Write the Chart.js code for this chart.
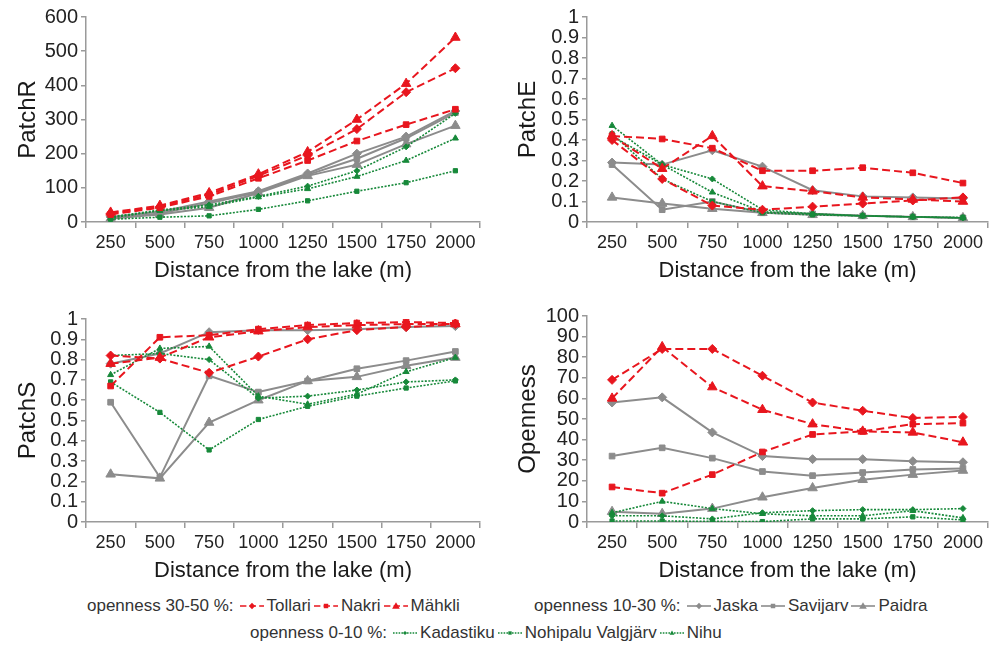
<!DOCTYPE html>
<html><head><meta charset="utf-8">
<script src="https://cdn.jsdelivr.net/npm/chart.js@4.4.1/dist/chart.umd.min.js"></script>
<style>
body{margin:0;background:#fff;width:1000px;height:648px;overflow:hidden;position:relative;font-family:'Liberation Sans',Arial,sans-serif;}
.panel{position:absolute;}
.lg{position:absolute;font-size:17px;color:#333;white-space:nowrap;line-height:20px;display:flex;align-items:center;}
.lg svg{margin:0 2px;}
</style></head><body>
<div class="panel" style="left:0;top:0"><canvas id="c1" width="490" height="290"></canvas></div>
<div class="panel" style="left:500px;top:0"><canvas id="c2" width="500" height="290"></canvas></div>
<div class="panel" style="left:0;top:300px"><canvas id="c3" width="490" height="290"></canvas></div>
<div class="panel" style="left:500px;top:300px"><canvas id="c4" width="500" height="290"></canvas></div>
<div class="lg" id="lg1" style="left:87px;top:596px"></div>
<div class="lg" id="lg2" style="left:534px;top:596px"></div>
<div class="lg" id="lg3" style="left:250px;top:623px"></div>
<script>
// ---------- data ----------
const distances = ['250','500','750','1000','1250','1500','1750','2000'];

const tollariR   = [25, 45, 80, 135, 195, 272, 380, 450];
const nakriR     = [22, 42, 75, 128, 180, 237, 285, 330];
const mahkliR    = [28, 48, 85, 140, 205, 300, 405, 540];
const jaskaR     = [15, 30, 60, 90, 142, 200, 250, 325];
const savijarvR  = [12, 25, 55, 88, 138, 185, 245, 320];
const paidraR    = [10, 22, 42, 85, 135, 168, 228, 282];
const kadastikuR = [15, 35, 50, 75, 105, 150, 220, 318];
const nohipaluR  = [8, 14, 18, 37, 62, 90, 115, 150];
const nihuR      = [12, 33, 45, 73, 97, 133, 180, 245];

const tollariE   = [0.40, 0.21, 0.08, 0.06, 0.075, 0.09, 0.105, 0.12];
const nakriE     = [0.42, 0.405, 0.36, 0.25, 0.25, 0.265, 0.24, 0.19];
const mahkliE    = [0.42, 0.26, 0.42, 0.175, 0.15, 0.12, 0.11, 0.10];
const jaskaE     = [0.29, 0.28, 0.35, 0.27, 0.155, 0.125, 0.12, 0.115];
const savijarvE  = [0.28, 0.06, 0.10, 0.045, 0.04, 0.03, 0.025, 0.02];
const paidraE    = [0.12, 0.09, 0.065, 0.045, 0.035, 0.03, 0.025, 0.02];
const kadastikuE = [0.42, 0.28, 0.21, 0.06, 0.04, 0.03, 0.025, 0.02];
const nohipaluE  = [0.43, 0.21, 0.10, 0.045, 0.035, 0.03, 0.025, 0.022];
const nihuE      = [0.47, 0.28, 0.145, 0.05, 0.04, 0.03, 0.025, 0.02];

const tollariS   = [0.82, 0.805, 0.735, 0.815, 0.90, 0.945, 0.96, 0.975];
const nakriS     = [0.67, 0.91, 0.92, 0.95, 0.97, 0.98, 0.985, 0.98];
const mahkliS    = [0.78, 0.81, 0.91, 0.94, 0.96, 0.97, 0.975, 0.975];
const jaskaS     = [0.78, 0.83, 0.935, 0.945, 0.945, 0.95, 0.96, 0.965];
const savijarvS  = [0.59, 0.22, 0.72, 0.64, 0.695, 0.755, 0.795, 0.84];
const paidraS    = [0.235, 0.215, 0.49, 0.60, 0.695, 0.715, 0.77, 0.81];
const kadastikuS = [0.82, 0.83, 0.80, 0.61, 0.62, 0.65, 0.69, 0.70];
const nohipaluS  = [0.69, 0.54, 0.355, 0.505, 0.57, 0.62, 0.66, 0.695];
const nihuS      = [0.725, 0.855, 0.865, 0.62, 0.58, 0.63, 0.74, 0.81];

const tollariO   = [69, 84, 84, 71, 58, 54, 50.5, 51];
const nakriO     = [17, 14, 23, 34, 42.5, 44, 47.5, 48];
const mahkliO    = [60, 85, 65.5, 54.5, 47.5, 44, 43.5, 38.7];
const jaskaO     = [58, 60.5, 43.5, 32, 30.5, 30.5, 29.5, 29];
const savijarvO  = [32, 36, 31, 24.5, 22.5, 24, 25.5, 26];
const paidraO    = [5, 4, 6.5, 12, 16.5, 20.5, 23, 25];
const kadastikuO = [3, 3, 1.5, 4.5, 5.5, 6, 6, 6.5];
const nohipaluO  = [0.5, 0.5, 0.3, 0.2, 1.5, 1.5, 2.5, 1];
const nihuO      = [4.5, 10, 6.5, 4, 3, 3, 5.5, 2];

const siteNames = ['Tollari','Nakri','Mähkli','Jaska','Savijarv','Paidra','Kadastiku','Nohipalu Valgjärv','Nihu'];
const groupLabels = ['openness 30-50 %:','openness 10-30 %:','openness 0-10 %:'];
const axisTitleX = 'Distance from the lake (m)';

// ---------- styles ----------
const RED = '#e8161e', GRAY = '#8c8c8c', GREEN = '#17893a';
const styles = [
  {c:RED, dash:[8,4], w:2, p:'rectRot', r:4.5},
  {c:RED, dash:[8,4], w:2, p:'rect', r:4},
  {c:RED, dash:[8,4], w:2, p:'triangle', r:5.5},
  {c:GRAY, dash:[], w:2, p:'rectRot', r:4.5},
  {c:GRAY, dash:[], w:2, p:'rect', r:4},
  {c:GRAY, dash:[], w:2, p:'triangle', r:5.5},
  {c:GREEN, dash:[2,1.5], w:1.6, p:'rectRot', r:3},
  {c:GREEN, dash:[2,1.5], w:1.6, p:'rect', r:3},
  {c:GREEN, dash:[2,1.5], w:1.6, p:'triangle', r:3.5}
];

function makeDatasets(arrs){
  return arrs.map((d,i)=>({
    label: siteNames[i], data: d,
    borderColor: styles[i].c, backgroundColor: styles[i].c,
    borderWidth: styles[i].w, borderDash: styles[i].dash,
    pointStyle: styles[i].p, pointRadius: styles[i].r,
    pointBorderWidth: 1, pointBorderColor: styles[i].c, pointBackgroundColor: styles[i].c,
    tension: 0, fill: false, order: i < 3 ? 0 : (i < 6 ? 2 : 1)
  }));
}

const FONT = "'Liberation Sans', Arial, sans-serif";
function makeChart(id, arrs, yTitle, yMax, yStep, yWidth, pad){
  return new Chart(document.getElementById(id), {
    type: 'line',
    data: { labels: distances, datasets: makeDatasets(arrs) },
    options: {
      responsive: false, animation: false, devicePixelRatio: 1,
      layout: { padding: pad },
      plugins: { legend: {display:false}, tooltip: {enabled:false} },
      scales: {
        x: {
          type: 'category', offset: true,
          grid: { display: true, drawOnChartArea: false, drawTicks: true, tickLength: 6, color: '#9a9a9a', lineWidth: 1.5, offset: true },
          border: { display: true, color: '#9a9a9a', width: 1.5 },
          ticks: { color: '#222', font: { family: FONT, size: 18 }, padding: 4, maxRotation: 0, autoSkip: false },
          title: { display: true, text: axisTitleX, color: '#1a1a1a', font: { family: FONT, size: 22 }, padding: {top: 0, bottom: 6} },
          afterFit: s => { s.height = 68; }
        },
        y: {
          min: 0, max: yMax,
          grid: { display: true, drawOnChartArea: false, drawTicks: true, tickLength: 5, color: '#9a9a9a', lineWidth: 1.5 },
          border: { display: true, color: '#9a9a9a', width: 1.5 },
          ticks: { stepSize: yStep, autoSkip: false, color: '#222', font: { family: FONT, size: 20 }, padding: 3,
                   callback: v => String(+v.toFixed(2)) },
          title: { display: true, text: yTitle, color: '#1a1a1a', font: { family: FONT, size: 24 }, padding: {top: 14, bottom: 0} },
          afterFit: s => { s.width = yWidth; }
        }
      }
    }
  });
}

makeChart('c1', [tollariR,nakriR,mahkliR,jaskaR,savijarvR,paidraR,kadastikuR,nohipaluR,nihuR], 'PatchR', 600, 100, 86, {top:17,right:10,bottom:0,left:0});
makeChart('c2', [tollariE,nakriE,mahkliE,jaskaE,savijarvE,paidraE,kadastikuE,nohipaluE,nihuE], 'PatchE', 1, 0.1, 87, {top:17,right:12,bottom:0,left:0});
makeChart('c3', [tollariS,nakriS,mahkliS,jaskaS,savijarvS,paidraS,kadastikuS,nohipaluS,nihuS], 'PatchS', 1, 0.1, 86, {top:19,right:10,bottom:0,left:0});
makeChart('c4', [tollariO,nakriO,mahkliO,jaskaO,savijarvO,paidraO,kadastikuO,nohipaluO,nihuO], 'Openness', 100, 10, 87, {top:16,right:12,bottom:0,left:0});

// ---------- legend ----------
function marker(st, cx, cy){
  const r = st.r * 0.7;
  if (st.p === 'rectRot') return `<polygon points="${cx},${cy-r} ${cx+r},${cy} ${cx},${cy+r} ${cx-r},${cy}" fill="${st.c}"/>`;
  if (st.p === 'rect') return `<rect x="${cx-r*0.8}" y="${cy-r*0.8}" width="${r*1.6}" height="${r*1.6}" fill="${st.c}"/>`;
  return `<polygon points="${cx},${cy-r} ${cx+r},${cy+r*0.7} ${cx-r},${cy+r*0.7}" fill="${st.c}"/>`;
}
function sample(i){
  const st = styles[i];
  const da = st.dash.length ? `stroke-dasharray="${st.dash.map(v=>v*0.8).join(',')}"` : '';
  return `<svg width="26" height="12"><line x1="1" y1="6" x2="25" y2="6" stroke="${st.c}" stroke-width="${st.w*0.8}" ${da}/>${marker(st,13,6)}</svg>`;
}
function legendRow(el, g, idx){
  let h = `<span style="margin-right:3px">${groupLabels[g]}</span>`;
  idx.forEach(i => { h += sample(i) + `<span>${siteNames[i]}</span>`; });
  document.getElementById(el).innerHTML = h;
}
legendRow('lg1', 0, [0,1,2]);
legendRow('lg2', 1, [3,4,5]);
legendRow('lg3', 2, [6,7,8]);
</script>
</body></html>
